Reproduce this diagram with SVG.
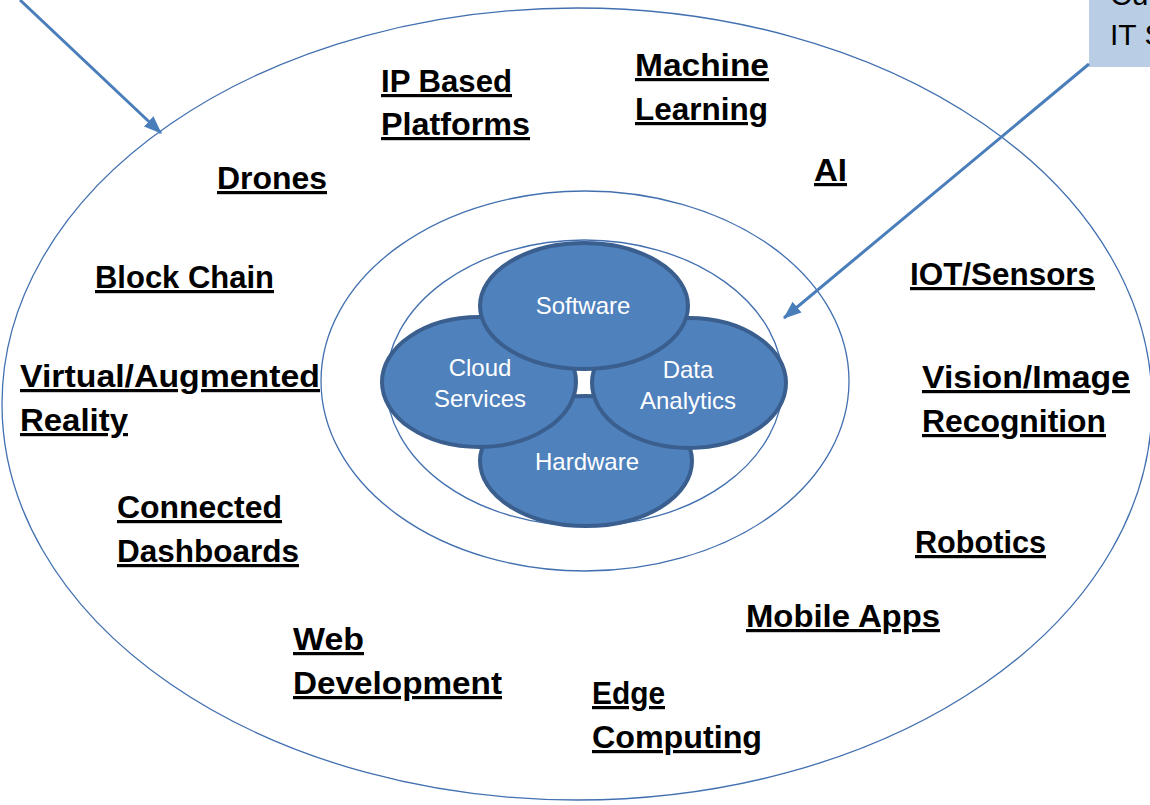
<svg xmlns="http://www.w3.org/2000/svg" width="1150" height="805" viewBox="0 0 1150 805">
<style>
.ring{fill:none;stroke:#4270b0;stroke-width:1.3}
.blob{fill:#4f81bd;stroke:#3a5f8e;stroke-width:4}
.wt{font-family:"Liberation Sans",Arial,sans-serif;font-size:24px;fill:#ffffff;text-anchor:middle}
.lb{font-family:"Liberation Sans",Arial,sans-serif;font-size:32px;font-weight:bold;fill:#000000;text-decoration:underline}
.cal{font-family:"Liberation Sans",Arial,sans-serif;font-size:30px;fill:#000000}
.arr{stroke:#4a7ebb;stroke-width:3;fill:none}
</style>
<defs>
<marker id="ah" markerUnits="userSpaceOnUse" markerWidth="18" markerHeight="14" refX="17" refY="7" orient="auto">
<path d="M0,0 L18,7 L0,14 z" fill="#4a7ebb"/>
</marker>
</defs>
<rect width="1150" height="805" fill="#ffffff"/>
<g id="rings">
<ellipse class="ring" cx="577" cy="404" rx="575" ry="396"/>
<ellipse class="ring" cx="585" cy="381" rx="264" ry="190"/>
<ellipse class="ring" cx="584.5" cy="383" rx="198.5" ry="143"/>
</g>
<g id="callout">
<rect x="1089" y="-20" width="80" height="87" fill="#b9cde5"/>
<text class="cal" x="1110" y="5">Cu</text>
<text class="cal" x="1110" y="45">IT S</text>
</g>
<g id="hardware">
<ellipse class="blob" cx="586" cy="461" rx="106" ry="65"/>
<text class="wt" x="587" y="470">Hardware</text>
</g>
<g id="cloud">
<ellipse class="blob" cx="479" cy="382" rx="97" ry="65"/>
<text class="wt" x="480" y="376">Cloud</text>
<text class="wt" x="480" y="407">Services</text>
</g>
<g id="data">
<ellipse class="blob" cx="689" cy="383" rx="97" ry="65"/>
<text class="wt" x="688" y="378">Data</text>
<text class="wt" x="688" y="409">Analytics</text>
</g>
<g id="software">
<ellipse class="blob" cx="584" cy="306" rx="104" ry="63"/>
<text class="wt" x="583" y="314">Software</text>
</g>
<g id="connectors">
<line class="arr" x1="20" y1="0" x2="161" y2="133" marker-end="url(#ah)"/>
<line class="arr" x1="1089" y1="64" x2="784" y2="318" marker-end="url(#ah)"/>
</g>
<g id="ip-based"><text class="lb" x="381" y="92" textLength="131" lengthAdjust="spacingAndGlyphs">IP Based</text><text class="lb" x="381" y="135" textLength="149" lengthAdjust="spacingAndGlyphs">Platforms</text></g>
<g id="machine-learning"><text class="lb" x="635" y="76" textLength="134" lengthAdjust="spacingAndGlyphs">Machine</text><text class="lb" x="635" y="120" textLength="133" lengthAdjust="spacingAndGlyphs">Learning</text></g>
<g id="ai"><text class="lb" x="814" y="181" textLength="33" lengthAdjust="spacingAndGlyphs">AI</text></g>
<g id="drones"><text class="lb" x="217" y="189" textLength="110" lengthAdjust="spacingAndGlyphs">Drones</text></g>
<g id="block-chain"><text class="lb" x="95" y="288" textLength="179" lengthAdjust="spacingAndGlyphs">Block Chain</text></g>
<g id="iot"><text class="lb" x="910" y="285" textLength="185" lengthAdjust="spacingAndGlyphs">IOT/Sensors</text></g>
<g id="vr"><text class="lb" x="20" y="387" textLength="300" lengthAdjust="spacingAndGlyphs">Virtual/Augmented</text><text class="lb" x="20" y="431" textLength="108" lengthAdjust="spacingAndGlyphs">Reality</text></g>
<g id="vision"><text class="lb" x="922" y="388" textLength="208" lengthAdjust="spacingAndGlyphs">Vision/Image</text><text class="lb" x="922" y="432" textLength="184" lengthAdjust="spacingAndGlyphs">Recognition</text></g>
<g id="dashboards"><text class="lb" x="117" y="518" textLength="165" lengthAdjust="spacingAndGlyphs">Connected</text><text class="lb" x="117" y="562" textLength="182" lengthAdjust="spacingAndGlyphs">Dashboards</text></g>
<g id="robotics"><text class="lb" x="915" y="553" textLength="131" lengthAdjust="spacingAndGlyphs">Robotics</text></g>
<g id="mobile"><text class="lb" x="746" y="627" textLength="194" lengthAdjust="spacingAndGlyphs">Mobile Apps</text></g>
<g id="web"><text class="lb" x="293" y="650" textLength="71" lengthAdjust="spacingAndGlyphs">Web</text><text class="lb" x="293" y="694" textLength="209" lengthAdjust="spacingAndGlyphs">Development</text></g>
<g id="edge"><text class="lb" x="592" y="704" textLength="73" lengthAdjust="spacingAndGlyphs">Edge</text><text class="lb" x="592" y="748" textLength="170" lengthAdjust="spacingAndGlyphs">Computing</text></g>
</svg>
